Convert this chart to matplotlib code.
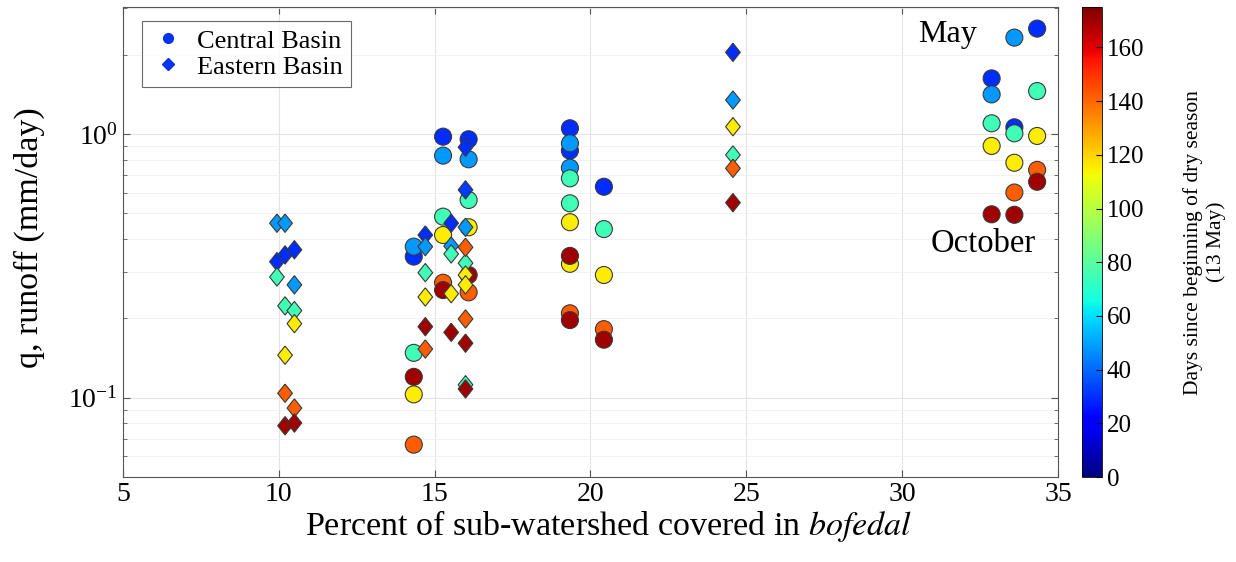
import numpy as np
import matplotlib.pyplot as plt
from matplotlib.lines import Line2D

plt.rcParams['font.family'] = ['Liberation Serif', 'DejaVu Serif']
plt.rcParams['mathtext.fontset'] = 'stix'

# Central Basin (circles): percent bofedal, runoff q (mm/day), days since 13 May
central_x = [14.33] * 6 + [15.27] * 6 + [16.09] * 6 + [19.34] * 11 + [20.43] * 5 \
    + [32.87] * 5 + [33.60] * 6 + [34.33] * 5
central_q = [0.374, 0.343, 0.148, 0.120, 0.103, 0.0664,
             0.977, 0.828, 0.486, 0.414, 0.273, 0.256,
             0.955, 0.802, 0.562, 0.443, 0.292, 0.251,
             1.051, 0.922, 0.865, 0.745, 0.679, 0.546, 0.463, 0.345, 0.322, 0.209, 0.197,
             0.631, 0.436, 0.292, 0.182, 0.166,
             1.625, 1.413, 1.098, 0.901, 0.496,
             2.32, 1.060, 1.006, 0.778, 0.600, 0.494,
             2.51, 1.455, 0.983, 0.731, 0.659]
central_days = [48, 30, 75, 170, 115, 142,
                30, 48, 75, 115, 142, 170,
                30, 48, 75, 115, 170, 142,
                30, 48, 30, 48, 75, 75, 115, 170, 115, 142, 170,
                30, 75, 115, 142, 170,
                30, 48, 75, 115, 170,
                48, 30, 75, 115, 142, 170,
                30, 75, 115, 142, 170]

# Eastern Basin (diamonds)
eastern_x = [9.94] * 3 + [10.2] * 6 + [10.5] * 6 + [14.70] * 6 + [15.53] * 5 \
    + [15.99] * 11 + [24.57] * 6
eastern_q = [0.459, 0.328, 0.287,
             0.459, 0.348, 0.223, 0.145, 0.104, 0.0783,
             0.364, 0.268, 0.214, 0.191, 0.0914, 0.0802,
             0.414, 0.374, 0.298, 0.241, 0.186, 0.153,
             0.459, 0.376, 0.351, 0.248, 0.177,
             0.891, 0.614, 0.443, 0.372, 0.324, 0.292, 0.268, 0.199, 0.161, 0.112, 0.108,
             2.04, 1.345, 1.066, 0.833, 0.741, 0.549]
eastern_days = [48, 30, 75,
                48, 30, 75, 115, 142, 170,
                30, 48, 75, 115, 142, 170,
                30, 48, 75, 115, 170, 142,
                30, 48, 75, 115, 170,
                30, 32, 48, 142, 75, 115, 115, 142, 170, 75, 170,
                30, 48, 115, 75, 142, 170]

diamond = [(0, 1), (0.8, 0), (0, -1), (-0.8, 0), (0, 1)]

fig = plt.figure(figsize=(12.36, 5.62), dpi=100)
ax = fig.add_axes([0.0995, 0.151, 0.7565, 0.8365])
cax = fig.add_axes([0.875, 0.151, 0.0165, 0.8365])

def draw(xs, qs, ds, marker, size):
    # later days drawn on top
    order = np.argsort(ds, kind='stable')
    xs, qs, ds = np.array(xs)[order], np.array(qs)[order], np.array(ds)[order]
    return ax.scatter(xs, qs, c=ds, cmap='jet', vmin=0, vmax=175, marker=marker,
                      s=size, edgecolors='#3a3a3a', linewidths=0.8, zorder=3)

sc = draw(central_x, central_q, central_days, 'o', 150)
draw(eastern_x, eastern_q, eastern_days, diamond, 175)

ax.set_yscale('log')
ax.set_xlim(5, 35)
ax.set_ylim(0.05, 3.03)
ax.set_xticks(range(5, 36, 5))
ax.grid(True, which='major', color='#e3e3e3', linewidth=0.8, zorder=0)
ax.grid(True, which='minor', axis='y', color='#f0f0f0', linewidth=0.6, zorder=0)
ax.tick_params(which='both', direction='in', top=True, right=True, labelsize=20,
               color='#555555')
ax.tick_params(which='major', length=5)
ax.tick_params(which='minor', length=3)
for sp in ax.spines.values():
    sp.set_color('#555555')
    sp.set_linewidth(0.8)

ax.set_xlabel('Percent of sub-watershed covered in $\\it{bofedal}$', fontsize=24.5)
ax.xaxis.set_label_coords(0.519, -0.066)
ax.set_ylabel('q, runoff (mm/day)', fontsize=24.5)
ax.yaxis.set_label_coords(-0.083, 0.51)

ax.text(31.45, 2.38, 'May', fontsize=23, ha='center', va='center')
ax.text(32.6, 0.385, 'October', fontsize=23.5, ha='center', va='center')

handles = [Line2D([], [], marker='o', linestyle='none', color='#0033ee', markersize=7),
           Line2D([], [], marker='D', linestyle='none', color='#0033ee', markersize=6)]
leg = ax.legend(handles, ['Central Basin', 'Eastern Basin'], loc='upper left',
                bbox_to_anchor=(0.006, 0.998), fontsize=19, frameon=True, fancybox=False,
                handletextpad=0.4, handlelength=1.4, borderpad=0.3, labelspacing=0.1)
leg.get_frame().set_edgecolor('#444444')
leg.get_frame().set_linewidth(0.8)

cb = fig.colorbar(sc, cax=cax)
cb.set_ticks(range(0, 161, 20))
cb.ax.tick_params(labelsize=18, direction='in', length=4)
cb.outline.set_linewidth(0.6)
cb.set_label('Days since beginning of dry season\n(13 May)', fontsize=15.5, labelpad=28)

fig.savefig('out.png', dpi=100)
